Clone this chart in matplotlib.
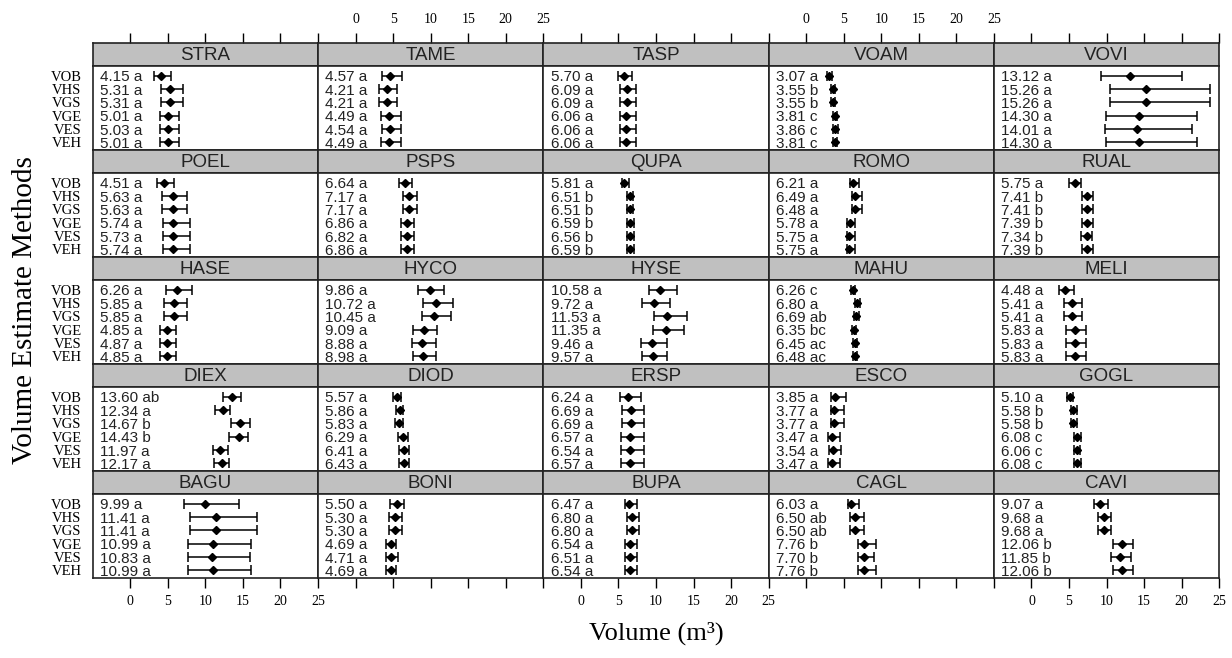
import numpy as np
import matplotlib.pyplot as plt

species = ['STRA', 'TAME', 'TASP', 'VOAM', 'VOVI',
           'POEL', 'PSPS', 'QUPA', 'ROMO', 'RUAL',
           'HASE', 'HYCO', 'HYSE', 'MAHU', 'MELI',
           'DIEX', 'DIOD', 'ERSP', 'ESCO', 'GOGL',
           'BAGU', 'BONI', 'BUPA', 'CAGL', 'CAVI']
methods = ['VOB', 'VHS', 'VGS', 'VGE', 'VES', 'VEH']

means = [
    [4.15, 5.31, 5.31, 5.01, 5.03, 5.01],
    [4.57, 4.21, 4.21, 4.49, 4.54, 4.49],
    [5.70, 6.09, 6.09, 6.06, 6.06, 6.06],
    [3.07, 3.55, 3.55, 3.81, 3.86, 3.81],
    [13.12, 15.26, 15.26, 14.30, 14.01, 14.30],
    [4.51, 5.63, 5.63, 5.74, 5.73, 5.74],
    [6.64, 7.17, 7.17, 6.86, 6.82, 6.86],
    [5.81, 6.51, 6.51, 6.59, 6.56, 6.59],
    [6.21, 6.49, 6.48, 5.78, 5.75, 5.75],
    [5.75, 7.41, 7.41, 7.39, 7.34, 7.39],
    [6.26, 5.85, 5.85, 4.85, 4.87, 4.85],
    [9.86, 10.72, 10.45, 9.09, 8.88, 8.98],
    [10.58, 9.72, 11.53, 11.35, 9.46, 9.57],
    [6.26, 6.80, 6.69, 6.35, 6.45, 6.48],
    [4.48, 5.41, 5.41, 5.83, 5.83, 5.83],
    [13.60, 12.34, 14.67, 14.43, 11.97, 12.17],
    [5.57, 5.86, 5.83, 6.29, 6.41, 6.43],
    [6.24, 6.69, 6.69, 6.57, 6.54, 6.57],
    [3.85, 3.77, 3.77, 3.47, 3.54, 3.47],
    [5.10, 5.58, 5.58, 6.08, 6.06, 6.08],
    [9.99, 11.41, 11.41, 10.99, 10.83, 10.99],
    [5.50, 5.30, 5.30, 4.69, 4.71, 4.69],
    [6.47, 6.80, 6.80, 6.54, 6.51, 6.54],
    [6.03, 6.50, 6.50, 7.76, 7.70, 7.76],
    [9.07, 9.68, 9.68, 12.06, 11.85, 12.06],
]

letters = [
    ['a'] * 6, ['a'] * 6, ['a'] * 6,
    ['a', 'b', 'b', 'c', 'c', 'c'],
    ['a'] * 6, ['a'] * 6, ['a'] * 6,
    ['a', 'b', 'b', 'b', 'b', 'b'],
    ['a'] * 6,
    ['a', 'b', 'b', 'b', 'b', 'b'],
    ['a'] * 6, ['a'] * 6, ['a'] * 6,
    ['c', 'a', 'ab', 'bc', 'ac', 'ac'],
    ['a'] * 6,
    ['ab', 'a', 'b', 'b', 'a', 'a'],
    ['a'] * 6, ['a'] * 6, ['a'] * 6,
    ['a', 'b', 'b', 'c', 'c', 'c'],
    ['a'] * 6, ['a'] * 6, ['a'] * 6,
    ['a', 'ab', 'ab', 'b', 'b', 'b'],
    ['a', 'a', 'a', 'b', 'b', 'b'],
]

lower = [
    [3.2, 4.1, 4.1, 3.9, 3.9, 3.9],
    [3.47, 3.15, 3.15, 3.34, 3.47, 3.34],
    [4.9, 5.25, 5.25, 5.15, 5.15, 5.15],
    [2.8, 3.3, 3.3, 3.55, 3.6, 3.55],
    [9.2, 10.5, 10.5, 9.9, 9.8, 9.9],
    [3.55, 4.2, 4.2, 4.4, 4.4, 4.4],
    [5.8, 6.35, 6.35, 6.05, 6.05, 6.05],
    [5.45, 6.15, 6.15, 6.2, 6.15, 6.2],
    [5.9, 6.15, 6.15, 5.45, 5.45, 5.45],
    [5.0, 6.7, 6.7, 6.7, 6.65, 6.7],
    [4.8, 4.45, 4.45, 3.9, 3.9, 3.9],
    [8.25, 9.0, 8.8, 7.65, 7.5, 7.65],
    [9.1, 8.2, 9.75, 9.55, 8.05, 8.2],
    [6.0, 6.5, 6.4, 6.1, 6.2, 6.2],
    [3.7, 4.3, 4.3, 4.6, 4.6, 4.6],
    [12.3, 11.3, 13.4, 13.15, 11.0, 11.15],
    [5.0, 5.35, 5.3, 5.7, 5.8, 5.8],
    [5.15, 5.45, 5.45, 5.35, 5.35, 5.35],
    [3.25, 3.25, 3.25, 2.9, 3.0, 2.9],
    [4.7, 5.2, 5.2, 5.7, 5.7, 5.7],
    [7.2, 8.0, 8.0, 7.75, 7.75, 7.75],
    [4.65, 4.5, 4.5, 4.05, 4.05, 4.05],
    [5.9, 6.15, 6.15, 5.9, 5.9, 5.9],
    [5.6, 5.9, 5.9, 6.95, 6.95, 6.95],
    [8.3, 8.9, 8.9, 10.8, 10.6, 10.8],
]

upper = [
    [5.4, 7.0, 7.0, 6.55, 6.55, 6.55],
    [6.25, 5.55, 5.55, 6.0, 6.08, 6.0],
    [6.8, 7.35, 7.35, 7.3, 7.3, 7.3],
    [3.45, 3.9, 3.9, 4.15, 4.2, 4.15],
    [20.0, 23.8, 23.8, 22.0, 21.4, 22.0],
    [5.85, 7.6, 7.6, 7.9, 7.9, 7.9],
    [7.55, 8.2, 8.2, 7.75, 7.75, 7.75],
    [6.35, 7.0, 7.0, 7.1, 7.05, 7.1],
    [7.0, 7.45, 7.45, 6.55, 6.55, 6.55],
    [6.6, 8.2, 8.2, 8.15, 8.1, 8.15],
    [8.2, 7.6, 7.6, 6.05, 6.1, 6.05],
    [11.8, 13.0, 12.65, 10.8, 10.65, 10.65],
    [12.8, 11.9, 14.2, 13.8, 11.5, 11.5],
    [6.5, 7.2, 7.05, 6.65, 6.75, 6.8],
    [5.7, 6.7, 6.7, 7.2, 7.2, 7.2],
    [14.7, 13.3, 15.95, 15.7, 12.95, 13.15],
    [6.05, 6.35, 6.35, 6.95, 7.1, 7.1],
    [8.0, 8.45, 8.45, 8.45, 8.35, 8.45],
    [5.25, 5.1, 5.1, 4.55, 4.7, 4.55],
    [5.55, 6.05, 6.05, 6.55, 6.5, 6.55],
    [14.45, 16.85, 16.85, 16.1, 15.95, 16.1],
    [6.45, 6.2, 6.2, 5.45, 5.6, 5.45],
    [7.45, 7.8, 7.8, 7.45, 7.45, 7.45],
    [7.0, 7.75, 7.75, 9.25, 9.1, 9.25],
    [10.2, 10.6, 10.6, 13.5, 13.3, 13.5],
]

xticks = [0, 5, 10, 15, 20, 25]

W, H = 1232, 658
fig = plt.figure(figsize=(W / 100, H / 100), dpi=100)

serif = ['Liberation Serif', 'DejaVu Serif']
sans = ['Liberation Sans', 'DejaVu Sans']

left0, top0 = 92.7, 43.0
colw, rowh, striph = 225.3, 107.0, 23.0
ypos = np.arange(len(methods))[::-1]   # VOB on top
edge = '#222222'

for k, sp in enumerate(species):
    r, c = divmod(k, 5)
    x0 = left0 + c * colw
    ytop = top0 + r * rowh
    # strip with the species name
    sax = fig.add_axes([x0 / W, 1 - (ytop + striph) / H, colw / W, striph / H])
    sax.set_facecolor('#c0c0c0')
    sax.set_xlim(-5, 25)
    sax.set_ylim(0, 1)
    sax.text(0.5, 0.45, sp, transform=sax.transAxes, ha='center', va='center',
             fontsize=13.5, family=sans, color='#222222')
    sax.set_yticks([])
    if r == 0:
        sax.set_xticks(xticks)
        sax.tick_params(axis='x', top=True, bottom=False, labelbottom=False,
                        labeltop=(c in (1, 3)), direction='out', length=7, width=1,
                        pad=5, labelsize=10)
        for t in sax.get_xticklabels():
            t.set_family(serif)
    else:
        sax.set_xticks([])
    for s in sax.spines.values():
        s.set_linewidth(1.2)
        s.set_color(edge)

    # data panel
    ax = fig.add_axes([x0 / W, 1 - (ytop + rowh) / H, colw / W, (rowh - striph) / H])
    m = np.array(means[k])
    lo = np.array(lower[k])
    hi = np.array(upper[k])
    ax.errorbar(m, ypos, xerr=[m - lo, hi - m], fmt='D', ms=4.5, color='black',
                ecolor='black', elinewidth=1.1, capsize=3.5, capthick=1.1)
    ax.set_xlim(-5, 25)
    ax.set_ylim(-0.58, 5.72)
    for j in range(len(methods)):
        ax.text(0.033, ypos[j] - 0.42, f'{means[k][j]:.2f} {letters[k][j]}',
                transform=ax.get_yaxis_transform(), ha='left', va='baseline',
                fontsize=11, family=sans, color='#222222')
    if c == 0:
        ax.set_yticks(ypos)
        ax.set_yticklabels(methods, family=serif, fontsize=10.5)
        ax.tick_params(axis='y', length=0, pad=8)
    else:
        ax.set_yticks([])
    if r == 4:
        ax.set_xticks(xticks)
        ax.tick_params(axis='x', direction='out', length=7, width=1, pad=5,
                       labelsize=10, labelbottom=(c in (0, 2, 4)))
        for t in ax.get_xticklabels():
            t.set_family(serif)
    else:
        ax.set_xticks([])
    for s in ax.spines.values():
        s.set_linewidth(1.2)
        s.set_color(edge)

fig.text(25 / W, 1 - 310 / H, 'Volume Estimate Methods', rotation=90,
         ha='center', va='center', fontsize=21, family=serif)
fig.text(656 / W, 1 - 633 / H, 'Volume (m³)', ha='center', va='center',
         fontsize=19, family=serif)

fig.savefig('out.png', dpi=100)
